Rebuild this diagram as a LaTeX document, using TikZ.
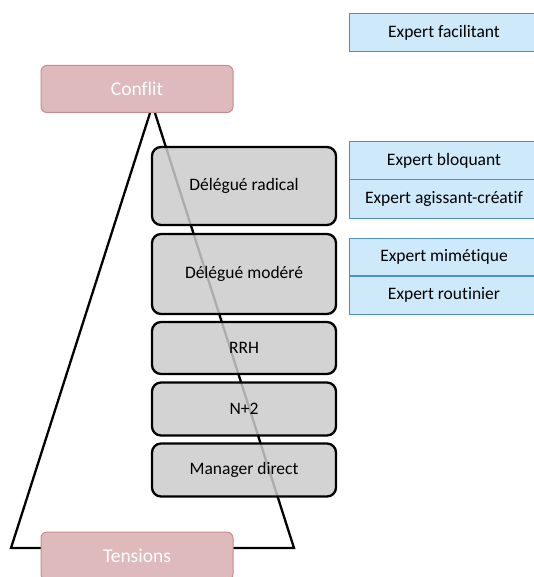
\documentclass[tikz,border=0pt]{standalone}
\usepackage{fontspec}
\setmainfont{Carlito}[Ligatures=NoCommon]
\begin{document}
\begin{tikzpicture}[x=1pt,y=-1pt,
  graybox/.style={draw=black,line width=2.3pt,rounded corners=9pt,fill={rgb,255:red,203;green,203;blue,203},fill opacity=0.85,text opacity=1,minimum width=184pt,font=\fontsize{17.5}{20}\selectfont,inner sep=0pt},
  pinkbox/.style={draw={rgb,255:red,201;green,138;blue,142},line width=1pt,rounded corners=6pt,fill={rgb,255:red,223;green,186;blue,188},text=white,minimum width=192pt,font=\fontsize{19.5}{22}\selectfont,inner sep=0pt},
  bluebox/.style={draw={rgb,255:red,77;green,143;blue,204},line width=1pt,fill={rgb,255:red,205;green,233;blue,250},minimum width=190pt,font=\fontsize{17.5}{20}\selectfont,inner sep=0pt}]
\useasboundingbox (0,0) rectangle (534,577);
% triangle
\coordinate (tl) at (150,113);
\coordinate (tr) at (155,113);
\coordinate (bl) at (11,548);
\coordinate (br) at (294,548);
\draw[line width=2.3pt,line join=miter] (tl) -- (bl) -- (br) -- (tr);
% gray boxes
\node[graybox,minimum height=78pt] (rad) at (244,186) {Délégué radical};
\node[graybox,minimum height=80pt] (mod) at (244,274) {Délégué modéré};
\node[graybox,minimum height=52pt] (rrh) at (244,348) {RRH};
\node[graybox,minimum height=53pt] (n2) at (244,409) {N+2};
\node[graybox,minimum height=53pt] (man) at (244,470) {Manager direct};
% pink boxes
\node[pinkbox,minimum height=47pt] (conf) at (137,89) {Conflit};
\node[pinkbox,minimum height=48pt] (tens) at (137,556) {Tensions};
% blue boxes (run past the right edge)
\node[bluebox,minimum height=38pt] (fac) at (444,33) {Expert facilitant};
\node[bluebox,minimum height=38pt] (blo) at (444,160.5) {Expert bloquant};
\node[bluebox,minimum height=38pt] (agi) at (444,199) {Expert agissant-créatif};
\node[bluebox,minimum height=37pt] (mim) at (444,256.5) {Expert mimétique};
\node[bluebox,minimum height=38pt] (rou) at (444,295) {Expert routinier};
\end{tikzpicture}
\end{document}
